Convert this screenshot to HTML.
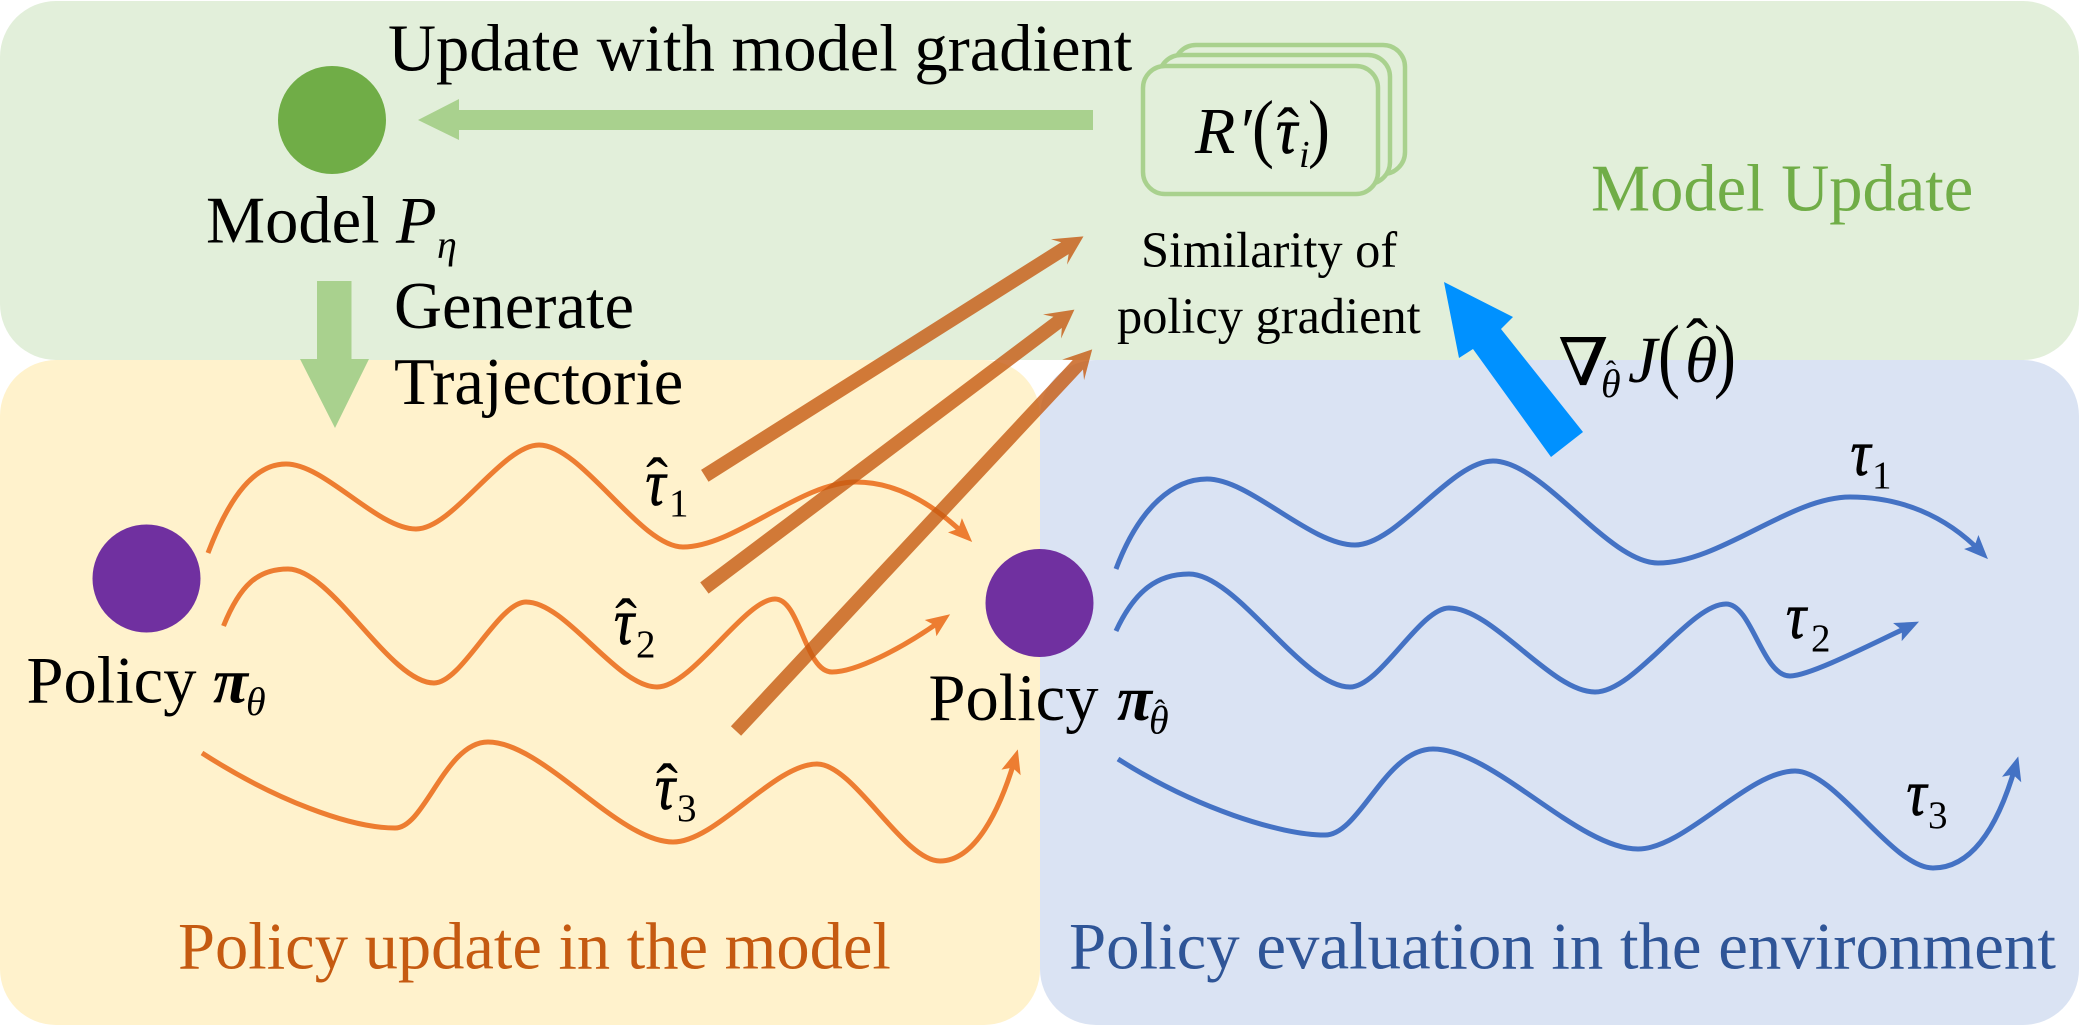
<!DOCTYPE html>
<html>
<head>
<meta charset="utf-8">
<style>
html,body{margin:0;padding:0;background:#fff;}
svg{display:block;}
text{font-family:"Liberation Serif","DejaVu Serif",serif;fill:#000;}
.i{font-style:italic;}
.t{stroke:#000;stroke-width:0.8;}
</style>
</head>
<body>
<svg width="2079" height="1025" viewBox="0 0 2079 1025" xmlns="http://www.w3.org/2000/svg">
<defs>
<marker id="mo" markerUnits="userSpaceOnUse" markerWidth="26" markerHeight="22" refX="14" refY="10" orient="auto" overflow="visible"><path d="M24,10 L0,0 L5,10 L0,20 Z" fill="#ED7D31"/></marker>
<marker id="mb" markerUnits="userSpaceOnUse" markerWidth="26" markerHeight="22" refX="14" refY="10" orient="auto" overflow="visible"><path d="M24,10 L0,0 L5,10 L0,20 Z" fill="#4472C4"/></marker>
</defs>

<rect x="0" y="360" width="1040" height="665" rx="56" ry="56" fill="#FFF2CC"/>
<rect x="1040" y="360" width="1039" height="665" rx="56" ry="56" fill="#DAE3F3"/>
<rect x="0" y="1" width="2079" height="359" rx="56" ry="56" fill="#E2EFDA"/>

<!-- orange curves -->
<g fill="none" stroke="#ED7D31" stroke-width="5">
<path marker-end="url(#mo)" d="M208 553 C230 495 255 464 286 464 C325 464 377 529 416 529 C453 529 502 445 539 445 C582 445 640 547 683 547 C735 547 800 482 856 482 C895 482 932 503 965 535"/>
<path marker-end="url(#mo)" d="M223.500 626 C240 585 258 569 288 569 C332 569 390 683 434 683 C462 683 498 602 526 602 C566 602 617 687 657 687 C692 687 745 599 775 599 C800 599 805 672 832 672 C855 672 900 650 942 620"/>
<path marker-end="url(#mo)" d="M202 753 C275 800 350 828 395 828 C425 828 445 742 488 742 C543 742 618 842 673 842 C716 842 774 764 817 764 C854 764 903 861 940 861 C975 861 1000 810 1015 759"/>
</g>

<!-- blue curves -->
<g fill="none" stroke="#4472C4" stroke-width="5">
<path marker-end="url(#mb)" d="M1116 569 C1140 505 1175 479 1207 479 C1250 479 1310 545 1355 545 C1397 545 1451 461 1493 461 C1543 461 1608 563 1658 563 C1720 563 1790 497 1850 497 C1900 497 1945 515 1981 552"/>
<path marker-end="url(#mb)" d="M1116 631 C1135 590 1158 574 1189 574 C1237 574 1302 687 1350 687 C1380 687 1420 608 1449 608 C1493 608 1551 692 1595 692 C1635 692 1690 604 1726 604 C1752 604 1762 676 1790 676 C1808 676 1860 650 1910 626"/>
<path marker-end="url(#mb)" d="M1118 759 C1195 808 1280 835 1325 835 C1360 835 1385 749 1433 749 C1493 749 1578 849 1638 849 C1685 849 1748 771 1795 771 C1836 771 1892 868 1933 868 C1975 868 2000 820 2015.500 766"/>
</g>

<!-- circles -->
<circle cx="332" cy="120" r="54" fill="#70AD47"/>
<circle cx="146.500" cy="578.500" r="54" fill="#7030A0"/>
<circle cx="1039.500" cy="603" r="54" fill="#7030A0"/>

<!-- green arrows -->
<polygon points="418,120 459,99 459,110 1093,110 1093,130 459,130 459,140" fill="#A9D18E"/>
<polygon points="317,281 351.500,281 351.500,359 369,359 335,428 300,359 317,359" fill="#A9D18E"/>

<!-- stacked boxes -->
<g fill="#E2EFDA" stroke="#A9D18E" stroke-width="4.500">
<rect x="1174" y="45" width="231" height="129" rx="22" ry="22"/>
<rect x="1159" y="55" width="231" height="129" rx="22" ry="22"/>
<rect x="1143" y="66" width="235" height="128" rx="22" ry="22"/>
</g>

<!-- brown arrows -->
<g fill="#C55A11" fill-opacity="0.8">
<path transform="translate(704.800 475.800) rotate(-32.300)" d="M0,-7 H426 L419,-15 L448,0 L419,15 L426,7 H0 Z"/>
<path transform="translate(704.400 588) rotate(-36.950)" d="M0,-7 H442 L435,-15 L463,0 L435,15 L442,7 H0 Z"/>
<path transform="translate(736 731) rotate(-46.970)" d="M0,-7 H501 L494,-15 L522,0 L494,15 L501,7 H0 Z"/>
</g>

<!-- big blue arrow -->
<polygon points="1444,282 1513,317 1501,329 1583,432 1551,457 1473,349 1459,358" fill="#0091FF"/>

<!-- main text -->
<g font-size="66.500">
<text x="388" y="70.500">Update with model gradient</text>
<text x="206" y="242.500">Model</text>
<text x="396" y="242.500" class="i">P</text>
<text x="394" y="328">Generate</text>
<text x="394" y="404">Trajectorie</text>
<text x="26.500" y="702.500">Policy</text>
<text x="928.500" y="720">Policy</text>
<text x="1591" y="210.500" style="fill:#70AD47">Model Update</text>
<text x="178" y="968.500" style="fill:#C55A11">Policy update in the model</text>
<text x="1069" y="968.500" font-size="66.800" style="fill:#2F5597">Policy evaluation in the environment</text>
</g>
<text x="437" y="258" font-size="40" class="i">η</text>

<g font-size="50.400">
<text x="1141" y="267">Similarity of</text>
<text x="1117" y="333">policy gradient</text>
</g>

<!-- pi labels -->
<text x="213" y="702.500" font-size="64" class="i" font-weight="bold">π</text>
<text x="246" y="715" font-size="40" class="i">θ</text>
<text x="1117" y="720" font-size="64" class="i" font-weight="bold">π</text>
<text x="1149" y="733.500" font-size="40" class="i">θ</text>
<text x="1155" y="720" font-size="30">ˆ</text>

<!-- R'(tau_i) -->
<text x="1195" y="153" font-size="66" class="i">R</text>
<text x="1237" y="153" font-size="66" class="i">′</text>
<text transform="translate(1252 153) scale(1 1.150)" font-size="66">(</text>
<text transform="translate(1276 153) scale(.9 1)" font-size="66" class="i t">τ</text>
<text x="1277" y="153" font-size="66">ˆ</text>
<text x="1299" y="167" font-size="38" class="i">i</text>
<text transform="translate(1308 153) scale(1 1.150)" font-size="66">)</text>

<!-- nabla J -->
<text transform="translate(1558 385) scale(1.100 1)" font-size="66" style="font-family:'DejaVu Serif',serif">∇</text>
<text x="1601" y="397" font-size="40" class="i">θ</text>
<text x="1606" y="381" font-size="30">ˆ</text>
<text x="1628" y="382" font-size="66" class="i">J</text>
<text transform="translate(1658 382) scale(1 1.250)" font-size="66">(</text>
<text x="1685" y="382" font-size="66" class="i">θ</text>
<text x="1686" y="364" font-size="66">ˆ</text>
<text transform="translate(1714 382) scale(1 1.250)" font-size="66">)</text>

<!-- tau labels -->
<g font-size="66" class="i t">
<text transform="translate(645.500 505) scale(.85 1)">τ</text>
<text transform="translate(614 644) scale(.85 1)">τ</text>
<text transform="translate(655 809) scale(.85 1)">τ</text>
<text transform="translate(1850.500 475) scale(.85 1)">τ</text>
<text transform="translate(1786 638) scale(.85 1)">τ</text>
<text transform="translate(1906.500 815) scale(.85 1)">τ</text>
</g>
<g font-size="66">
<text x="646" y="503">ˆ</text>
<text x="615" y="644">ˆ</text>
<text x="656" y="809">ˆ</text>
</g>
<g font-size="39">
<text x="669" y="516">1</text>
<text x="636" y="657">2</text>
<text x="677" y="821">3</text>
<text x="1872" y="488">1</text>
<text x="1811" y="651">2</text>
<text x="1928" y="828">3</text>
</g>
</svg>
</body>
</html>
